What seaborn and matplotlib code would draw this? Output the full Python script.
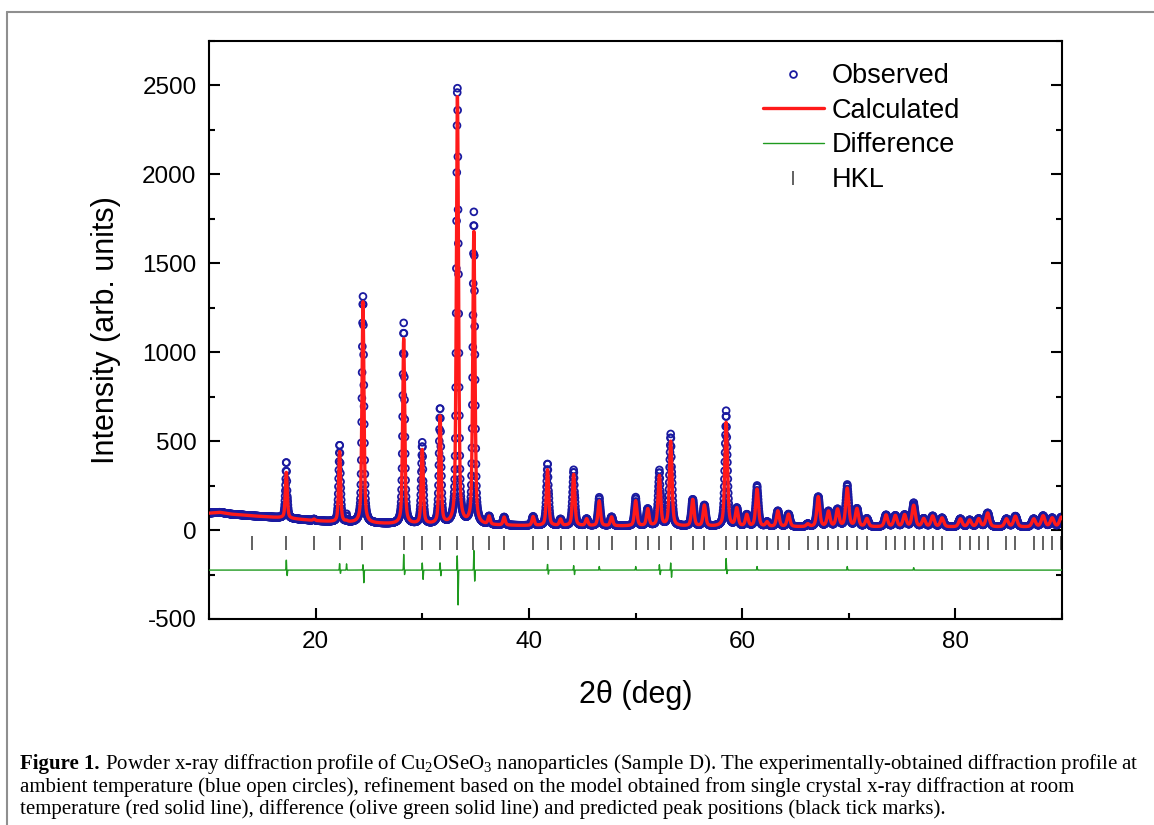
import numpy as np
import pandas as pd
import matplotlib
matplotlib.use("Agg")
import matplotlib.pyplot as plt
from matplotlib.lines import Line2D
from matplotlib.ticker import MultipleLocator
import seaborn as sns

# ---------------- data ----------------
# background knots (2theta, intensity)
bg_x = [10, 11, 12, 14, 17, 20, 22, 27, 35, 40, 50, 60, 70, 90]
bg_y = [95, 100, 90, 80, 68, 52, 44, 34, 27, 24, 22, 18, 17, 16]

# Bragg peaks of the calculated profile: position and height above background
peak_pos = [17.25, 19.85, 22.25, 22.9, 24.44, 28.26, 30.0, 31.67, 33.3, 34.84,
            36.27, 37.68, 40.4, 41.75, 42.97, 44.2, 45.42, 46.6, 47.76, 50.02,
            51.15, 52.24, 53.3, 55.37, 56.46, 58.5, 59.5, 60.44, 61.4, 62.34,
            63.35, 64.35, 66.16, 67.14, 68.1, 68.95, 69.86, 70.77, 71.7, 73.5,
            74.37, 75.24, 76.09, 77.03, 77.87, 78.75, 80.47, 81.34, 82.19, 83.03,
            84.79, 85.63, 87.35, 88.23, 89.08, 89.93]
peak_height = [259, 8, 398, 5, 1243, 1041, 416, 607, 2401, 1644,
               45, 45, 50, 316, 35, 289, 38, 140, 50, 141,
               95, 281, 476, 150, 118, 585, 100, 65, 210, 25,
               88, 70, 15, 168, 85, 96, 215, 100, 45, 66,
               62, 66, 120, 45, 60, 50, 45, 38, 45, 78,
               45, 60, 45, 62, 50, 55]

# peak width (FWHM, deg) knots
fwhm_x = [10, 35, 60, 90]
fwhm_val = [0.2, 0.24, 0.3, 0.4]

# residual (observed - calculated) features
resid_pos = [17.25, 17.33, 22.25, 22.33, 22.9, 24.44, 24.52, 28.26, 28.34,
             30.0, 30.08, 31.67, 31.75, 33.28, 33.36, 34.84, 34.92, 41.75,
             41.83, 44.2, 44.28, 46.6, 50.02, 52.24, 52.32, 53.3, 53.38,
             58.5, 58.58, 61.4, 69.86, 76.09]
resid_amp = [62, -34, 40, -20, 35, 30, -71, 88, -25,
             40, -52, 45, -35, 80, -196, 110, -62, 35,
             -25, 25, -25, 20, 20, 30, -25, 40, -40,
             65, -20, 20, 20, 15]
diff_offset = -225

# predicted reflection positions (HKL tick marks)
hkl_pos = [14.02, 17.25, 19.85, 22.25, 24.38, 28.26, 29.98, 31.67, 33.27, 34.77,
           36.27, 37.68, 40.4, 41.75, 42.97, 44.22, 45.41, 46.6, 47.76, 50.04,
           51.15, 52.24, 53.3, 55.37, 56.46, 58.5, 59.5, 60.44, 61.4, 62.34,
           63.35, 64.35, 66.16, 67.14, 68.1, 68.95, 69.86, 70.77, 71.7, 73.5,
           74.37, 75.24, 76.09, 77.03, 77.87, 78.75, 80.47, 81.34, 82.19, 83.03,
           84.79, 85.63, 87.35, 88.23, 89.08, 89.93]
hkl_level = -70

step = 0.02
x_range = (10, 90)

# ---------------- profiles ----------------
tt = np.arange(x_range[0], x_range[1] + step / 2, step)
bg = np.interp(tt, bg_x, bg_y)
calc = bg.copy()
for p, h in zip(peak_pos, peak_height):
    w = np.interp(p, fwhm_x, fwhm_val) / 2.0
    u = (tt - p) / w
    calc += h * (0.5 / (1 + u ** 2) + 0.5 * np.exp(-np.log(2) * u ** 2))
resid = np.zeros_like(tt)
for p, a in zip(resid_pos, resid_amp):
    u = (tt - p) / 0.025
    resid += a * np.exp(-np.log(2) * u ** 2)
obs = calc + resid
diff = resid + diff_offset

df = pd.DataFrame({"tt": tt, "obs": obs, "calc": calc, "diff": diff})

# ---------------- style ----------------
sns.set_theme(style="ticks")
plt.rcParams["font.family"] = ["Liberation Sans", "DejaVu Sans"]
plt.rcParams["axes.unicode_minus"] = False
plt.rcParams["text.color"] = "black"
plt.rcParams["axes.labelcolor"] = "black"
plt.rcParams["xtick.color"] = "black"
plt.rcParams["ytick.color"] = "black"
plt.rcParams["mathtext.fontset"] = "custom"
plt.rcParams["mathtext.rm"] = "Liberation Serif"
plt.rcParams["mathtext.it"] = "Liberation Serif:italic"
plt.rcParams["mathtext.bf"] = "Liberation Serif:bold"

W, H = 1154, 825
fig = plt.figure(figsize=(W / 100, H / 100), dpi=100)
fig.patch.set_facecolor("white")
ax = fig.add_axes([209 / W, 1 - 619 / H, (1062 - 209) / W, (619 - 41) / H])

blue = "#1a1aa0"
red = "#ff1a1a"
green = "#1f9a1f"
grey = "#555555"

sns.scatterplot(data=df, x="tt", y="obs", ax=ax, color=blue, facecolor="none",
                edgecolor=blue, s=24, linewidth=1.3, marker="o", zorder=2)
sns.lineplot(data=df, x="tt", y="calc", ax=ax, color=red, lw=2.4,
             estimator=None, errorbar=None, zorder=3)
sns.lineplot(data=df, x="tt", y="diff", ax=ax, color=green, lw=1.0,
             estimator=None, errorbar=None, zorder=3)
ax.plot(hkl_pos, [hkl_level] * len(hkl_pos), ls="none", marker="|",
        ms=9.5, mew=1.3, color=grey, zorder=2)

ax.set_xlim(*x_range)
ax.set_ylim(-500, 2750)
ax.xaxis.set_major_locator(MultipleLocator(20))
ax.xaxis.set_minor_locator(MultipleLocator(10))
ax.yaxis.set_major_locator(MultipleLocator(500))
ax.yaxis.set_minor_locator(MultipleLocator(250))
for s in ax.spines.values():
    s.set_linewidth(1.5)
    s.set_color("black")
ax.tick_params(which="both", direction="in", right=True, top=False,
               width=1.5, color="black", labelcolor="black", labelsize=17.5, pad=9)
ax.tick_params(which="major", length=8)
ax.tick_params(which="minor", length=4.3)

ax.set_xlabel("2\u03b8 (deg)", fontsize=22, color="black")
ax.set_ylabel("Intensity (arb. units)", fontsize=22, color="black")
ax.xaxis.set_label_coords(0.5, -0.105)
ax.yaxis.set_label_coords(-0.103, 0.5)

handles = [
    Line2D([], [], ls="none", marker="o", mfc="none", mec=blue, ms=4.9, mew=1.3),
    Line2D([], [], color=red, lw=2.4),
    Line2D([], [], color=green, lw=1.0),
    Line2D([], [], ls="none", marker="|", color=grey, ms=9.5, mew=1.3),
]
labels = ["Observed", "Calculated", "Difference", "HKL"]
fig.legend(handles, labels, loc="upper left",
           bbox_to_anchor=(763 / W, 1 - 63 / H), bbox_transform=fig.transFigure,
           frameon=False, fontsize=19.5, handlelength=2.25, handletextpad=0.3,
           labelspacing=0.32, borderpad=0, borderaxespad=0, labelcolor="black")

# ---------------- frame lines of the figure panel ----------------
fig.add_artist(Line2D([7 / W, 7 / W], [0, 1 - 12 / H], transform=fig.transFigure,
                      color="#8f8f8f", lw=1.5))
fig.add_artist(Line2D([7 / W, 1], [1 - 12 / H, 1 - 12 / H], transform=fig.transFigure,
                      color="#8f8f8f", lw=1.5))

# ---------------- caption ----------------
cap_bold = "Figure 1."
cap_lines = [
    " Powder x-ray diffraction profile of Cu$_2$OSeO$_3$ nanoparticles (Sample D). "
    "The experimentally-obtained diffraction profile at",
    "ambient temperature (blue open circles), refinement based on the model obtained "
    "from single crystal x-ray diffraction at room",
    "temperature (red solid line), difference (olive green solid line) and predicted "
    "peak positions (black tick marks).",
]
cap_x0 = 20
cap_base = [769, 792, 814]
target_w = 1140 - cap_x0

fig.canvas.draw()
renderer = fig.canvas.get_renderer()
ref = 10.0
tb = fig.text(0, 0, cap_bold, family="Liberation Serif", fontweight="bold", fontsize=ref)
tr = fig.text(0, 0, cap_lines[0], family="Liberation Serif", fontsize=ref)
wtot = tb.get_window_extent(renderer).width + tr.get_window_extent(renderer).width
tb.remove()
tr.remove()
fs = ref * target_w / wtot

t1 = fig.text(cap_x0 / W, 1 - cap_base[0] / H, cap_bold, family="Liberation Serif",
              fontweight="bold", fontsize=fs, va="baseline", ha="left")
fig.canvas.draw()
bx = t1.get_window_extent(renderer).x1
fig.text(bx / W, 1 - cap_base[0] / H, cap_lines[0], family="Liberation Serif",
         fontsize=fs, va="baseline", ha="left")
for line, yb in zip(cap_lines[1:], cap_base[1:]):
    fig.text(cap_x0 / W, 1 - yb / H, line, family="Liberation Serif",
             fontsize=fs, va="baseline", ha="left")

fig.savefig("out.png", dpi=100)
